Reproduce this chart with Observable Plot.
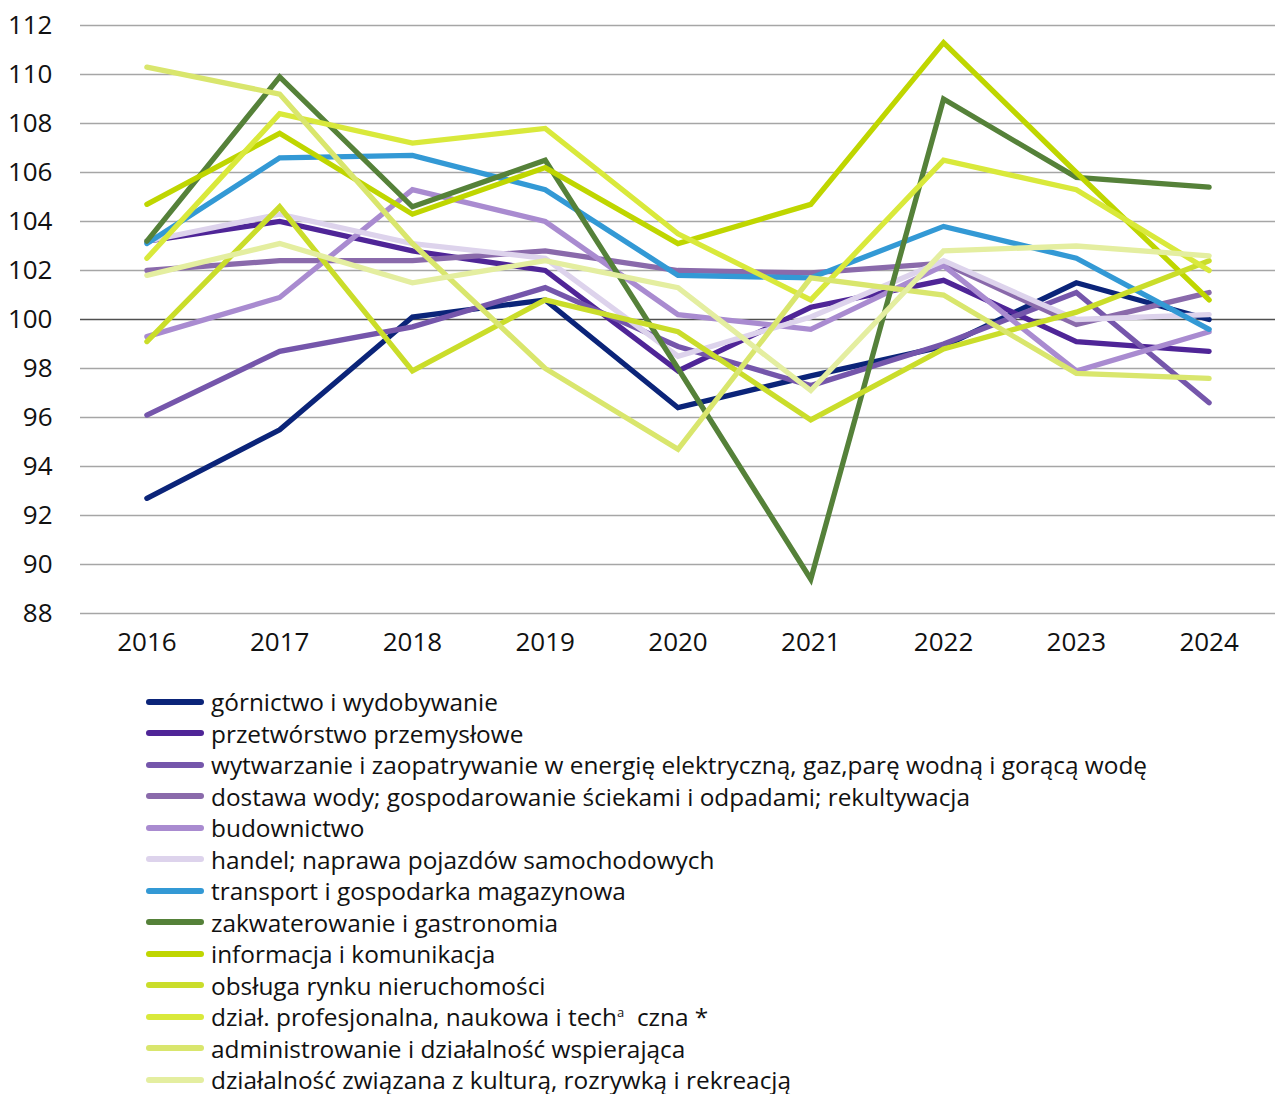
<!DOCTYPE html>
<html>
<head>
<meta charset="utf-8">
<script src="https://cdn.jsdelivr.net/npm/d3@7"></script>
<script src="https://cdn.jsdelivr.net/npm/@observablehq/plot@0.6"></script>
<style>
  html, body { margin: 0; padding: 0; background: #fff; }
  body { width: 1275px; height: 1094px; overflow: hidden; font-family: "Open Sans", sans-serif; color: #111; }
  #chart svg { display: block; }
  #legend { position: absolute; left: 146px; top: 686px; font-size: 24.4px; line-height: 31.5px; }
  .row { display: flex; align-items: center; height: 31.5px; white-space: nowrap; }
  .sw { width: 58px; height: 6px; border-radius: 3px; margin-right: 7px; flex: none; }
  .lab { letter-spacing: 0px; }
  sup { font-size: 13px; vertical-align: 9px; line-height: 0; }
</style>
</head>
<body>
<div id="chart"></div>
<div id="legend"></div>
<script>
const years = [2016, 2017, 2018, 2019, 2020, 2021, 2022, 2023, 2024];
const yTicks = [88, 90, 92, 94, 96, 98, 100, 102, 104, 106, 108, 110, 112];

const seriesNames = [
  "górnictwo i wydobywanie",
  "przetwórstwo przemysłowe",
  "wytwarzanie i zaopatrywanie w energię elektryczną, gaz,parę wodną i gorącą wodę",
  "dostawa wody; gospodarowanie ściekami i odpadami; rekultywacja",
  "budownictwo",
  "handel; naprawa pojazdów samochodowych",
  "transport i gospodarka magazynowa",
  "zakwaterowanie i gastronomia",
  "informacja i komunikacja",
  "obsługa rynku nieruchomości",
  "dział. profesjonalna, naukowa i tech|a|  czna *",
  "administrowanie i działalność wspierająca",
  "działalność związana z kulturą, rozrywką i rekreacją"
];

const seriesColors = [
  "#0b2479", "#4f2597", "#7556ab", "#8a6aab", "#a98bd0", "#ddd3ec", "#3399d5",
  "#558139", "#bfd600", "#cadd2a", "#d9e93b", "#d9e66d", "#e4eea0"
];

const gornictwo      = [92.7, 95.5, 100.1, 100.8, 96.4, 97.7, 98.9, 101.5, 100.0];
const przetworstwo   = [103.2, 104.0, 102.8, 102.0, 97.9, 100.5, 101.6, 99.1, 98.7];
const energia        = [96.1, 98.7, 99.7, 101.3, 98.9, 97.3, 99.0, 101.1, 96.6];
const dostawaWody    = [102.0, 102.4, 102.4, 102.8, 102.0, 101.9, 102.3, 99.8, 101.1];
const budownictwo    = [99.3, 100.9, 105.3, 104.0, 100.2, 99.6, 102.2, 97.9, 99.5];
const handel         = [103.2, 104.3, 103.1, 102.5, 98.5, 100.1, 102.4, 100.0, 100.2];
const transport      = [103.1, 106.6, 106.7, 105.3, 101.8, 101.7, 103.8, 102.5, 99.6];
const zakwaterowanie = [103.2, 109.9, 104.6, 106.5, 98.0, 89.4, 109.0, 105.8, 105.4];
const informacja     = [104.7, 107.6, 104.3, 106.2, 103.1, 104.7, 111.3, 106.0, 100.8];
const nieruchomosci  = [99.1, 104.6, 97.9, 100.8, 99.5, 95.9, 98.8, 100.3, 102.4];
const profesjonalna  = [102.5, 108.4, 107.2, 107.8, 103.5, 100.8, 106.5, 105.3, 102.0];
const administrowanie= [110.3, 109.2, 103.1, 98.0, 94.7, 101.7, 101.0, 97.8, 97.6];
const kultura        = [101.8, 103.1, 101.5, 102.4, 101.3, 97.1, 102.8, 103.0, 102.6];

const seriesValues = [gornictwo, przetworstwo, energia, dostawaWody, budownictwo, handel,
  transport, zakwaterowanie, informacja, nieruchomosci, profesjonalna, administrowanie, kultura];

const lineMarks = seriesValues.map((vals, i) =>
  Plot.line(years.map((y, j) => ({year: y, value: vals[j]})), {
    x: "year", y: "value", stroke: seriesColors[i], strokeWidth: 5.3,
    strokeLinejoin: "miter", strokeLinecap: "round", strokeMiterlimit: 10
  })
);

const chart = Plot.plot({
  width: 1275,
  height: 670,
  marginLeft: 80,
  marginRight: 0,
  marginTop: 25,
  marginBottom: 57,
  style: {fontFamily: "Open Sans, sans-serif", fontSize: "26px", color: "#111", background: "#fff"},
  x: {domain: [2015.5, 2024.5], label: null},
  y: {domain: [88, 112], label: null},
  marks: [
    Plot.ruleY(yTicks.filter(d => d !== 100), {stroke: "#a6a6a6", strokeWidth: 1.3}),
    Plot.ruleY([100], {stroke: "#505050", strokeWidth: 1.3}),
    Plot.axisY({ticks: yTicks, tickSize: 0, tickPadding: 28, fontSize: 26, label: null, tickFormat: d => String(d)}),
    Plot.axisX({ticks: years, tickSize: 0, tickPadding: 19, fontSize: 26, label: null, tickFormat: d => String(d)}),
    ...lineMarks
  ]
});
document.getElementById("chart").appendChild(chart);

const legend = document.getElementById("legend");
seriesNames.forEach((name, i) => {
  const row = document.createElement("div");
  row.className = "row";
  const sw = document.createElement("span");
  sw.className = "sw";
  sw.style.background = seriesColors[i];
  const lab = document.createElement("span");
  lab.className = "lab";
  const parts = name.split("|");
  if (parts.length === 3) {
    lab.appendChild(document.createTextNode(parts[0]));
    const sup = document.createElement("sup");
    sup.textContent = parts[1];
    lab.appendChild(sup);
    const rest = document.createElement("span");
    rest.style.whiteSpace = "pre";
    rest.textContent = parts[2];
    lab.appendChild(rest);
  } else {
    lab.textContent = name;
  }
  row.appendChild(sw);
  row.appendChild(lab);
  legend.appendChild(row);
});
</script>
</body>
</html>
